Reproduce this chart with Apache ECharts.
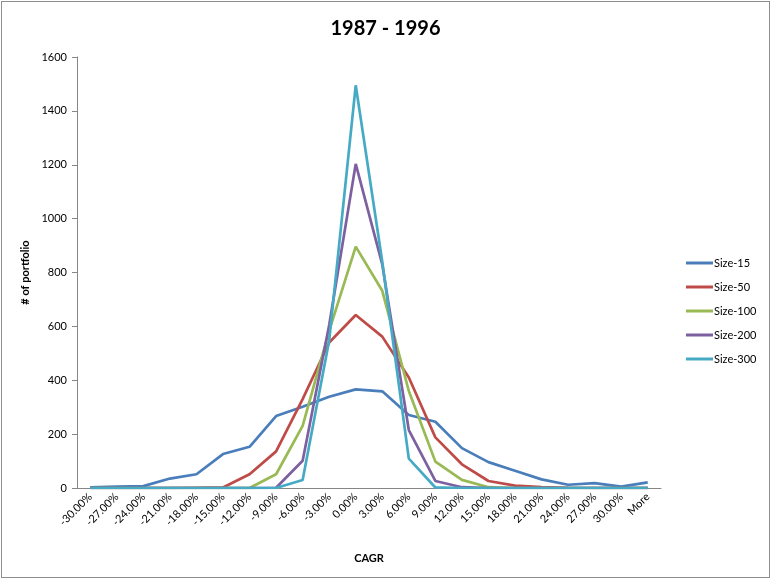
<!DOCTYPE html>
<html>
<head>
<meta charset="utf-8">
<script src="https://cdn.jsdelivr.net/npm/echarts@6/dist/echarts.min.js"></script>
<style>
  html, body { margin: 0; padding: 0; background: #fff; }
  #frame { position: absolute; left: 1px; top: 1px; width: 767px; height: 575px; border: 1px solid #8e8e8e; }
  #main { width: 771px; height: 579px; }
</style>
</head>
<body>
<div id="frame"></div>
<div id="main"></div>
<script>
/* ============================
   DATOS
============================ */
const categorias = ['-30.00%', '-27.00%', '-24.00%', '-21.00%', '-18.00%', '-15.00%', '-12.00%',
    '-9.00%', '-6.00%', '-3.00%', '0.00%', '3.00%', '6.00%', '9.00%', '12.00%', '15.00%',
    '18.00%', '21.00%', '24.00%', '27.00%', '30.00%', 'More'];

const size15  = [2, 5, 7, 35, 51, 126, 153, 267, 302, 339, 366, 359, 271, 246, 148, 96, 64, 32, 12, 18, 5, 21];
const size50  = [0, 0, 0, 0, 1, 2, 51, 136, 330, 540, 642, 562, 410, 188, 88, 26, 9, 3, 1, 0, 0, 0];
const size100 = [0, 0, 0, 0, 0, 0, 0, 51, 231, 583, 896, 732, 360, 98, 30, 3, 0, 0, 0, 0, 0, 0];
const size200 = [0, 0, 0, 0, 0, 0, 0, 1, 101, 605, 1203, 830, 215, 26, 3, 0, 0, 0, 0, 0, 0, 0];
const size300 = [0, 0, 0, 0, 0, 0, 0, 0, 30, 548, 1495, 840, 109, 2, 0, 0, 0, 0, 0, 0, 0, 0];

const nombres = ['Size-15', 'Size-50', 'Size-100', 'Size-200', 'Size-300'];
const colores = ['#4A7EBB', '#BE4B48', '#98B954', '#7D60A0', '#46AAC5'];

const ejeY = { min: 0, max: 1600, intervalo: 200 };

/* ============================
   GRAFICA
============================ */
const fuente = 'Lato, "Open Sans", sans-serif';
const chart = echarts.init(document.getElementById('main'));

const series = [size15, size50, size100, size200, size300].map((datos, i) => ({
    name: nombres[i],
    type: 'line',
    data: datos,
    showSymbol: false,
    symbol: 'none',
    lineStyle: { width: 2.7, color: colores[i] },
    itemStyle: { color: colores[i] },
    animation: false
}));

chart.setOption({
    backgroundColor: 'transparent',
    title: {
        text: '1987 - 1996',
        left: 'center',
        top: 14,
        textStyle: { fontFamily: fuente, fontSize: 20, fontWeight: 'bold', color: '#000' }
    },
    legend: {
        orient: 'vertical',
        left: 681,
        top: 251,
        itemWidth: 27,
        itemHeight: 3,
        itemGap: 10,
        icon: 'rect',
        data: nombres,
        textStyle: { fontFamily: fuente, fontSize: 11, color: '#000', lineHeight: 14, padding: [0, 0, 0, -4] }
    },
    grid: { left: 77, right: 110, top: 57, bottom: 91, containLabel: false },
    xAxis: {
        type: 'category',
        data: categorias,
        boundaryGap: true,
        name: 'CAGR',
        nameLocation: 'middle',
        nameGap: 65,
        nameTextStyle: { fontFamily: fuente, fontSize: 11, fontWeight: 'bold', color: '#000' },
        axisLine: { lineStyle: { color: '#868686', width: 1 } },
        axisTick: { show: false },
        axisLabel: { rotate: 45, interval: 0, margin: 7, fontFamily: fuente, fontSize: 11, color: '#000' },
        splitLine: { show: false }
    },
    yAxis: {
        type: 'value',
        min: ejeY.min,
        max: ejeY.max,
        interval: ejeY.intervalo,
        name: '# of portfolio',
        nameLocation: 'middle',
        nameGap: 46,
        nameRotate: 90,
        nameTextStyle: { fontFamily: fuente, fontSize: 11, fontWeight: 'bold', color: '#000' },
        axisLine: { show: true, lineStyle: { color: '#868686', width: 1 } },
        axisTick: { show: true, length: 5, lineStyle: { color: '#868686' } },
        axisLabel: { margin: 10, fontFamily: fuente, fontSize: 11, color: '#000', formatter: v => String(v) },
        splitLine: { show: false }
    },
    tooltip: { show: false },
    animation: false,
    series: series
});
</script>
</body>
</html>
